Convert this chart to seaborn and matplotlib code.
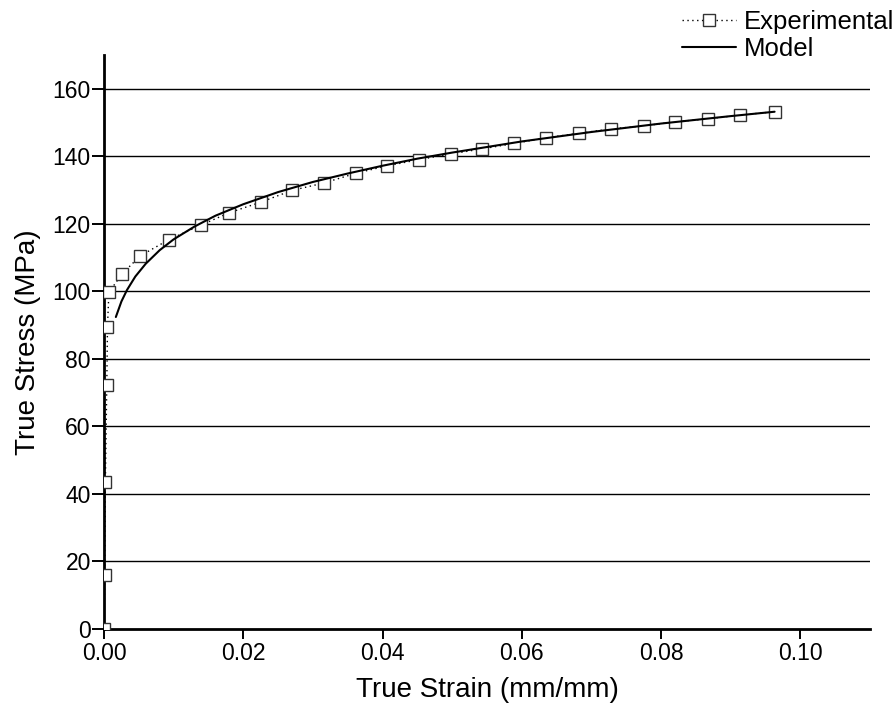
import matplotlib
matplotlib.use("Agg")
import matplotlib.pyplot as plt
import seaborn as sns
import pandas as pd

exp_strain = [0.0, 0.0001, 0.0002, 0.0004, 0.0005, 0.0007, 0.0026, 0.0052, 0.0093,
              0.0139, 0.0180, 0.0225, 0.0270, 0.0316, 0.0362, 0.0407, 0.0452, 0.0498,
              0.0543, 0.0589, 0.0635, 0.0682, 0.0728, 0.0775, 0.0820, 0.0867, 0.0913, 0.0963]
exp_stress = [0.0, 16.0, 43.6, 72.3, 89.5, 99.7, 105.2, 110.5, 115.3,
              119.6, 123.3, 126.4, 129.9, 132.1, 135.0, 137.2, 139.0, 140.7,
              142.2, 143.8, 145.5, 146.8, 148.1, 149.0, 150.2, 151.1, 152.2, 153.2]

# Model curve
model_strain = [0.0017, 0.0025, 0.0033, 0.0045, 0.006, 0.008, 0.010, 0.013, 0.016,
                0.020, 0.025, 0.030, 0.035, 0.040, 0.045, 0.050, 0.060, 0.070,
                0.080, 0.090, 0.0963]
model_stress = [92.4, 97.0, 100.4, 104.4, 108.2, 112.2, 115.4, 119.2, 122.4,
                125.8, 129.4, 132.4, 134.9, 137.2, 139.3, 141.1, 144.4, 147.2,
                149.7, 151.9, 153.2]

y_ticks = [0, 20, 40, 60, 80, 100, 120, 140, 160]
x_ticks = [0.00, 0.02, 0.04, 0.06, 0.08, 0.10]
x_ticklabels = ["0.00", "0.02", "0.04", "0.06", "0.08", "0.10"]

sns.set_style("ticks")
plt.rcParams["font.family"] = ["Liberation Sans", "DejaVu Sans"]
plt.rcParams["text.color"] = "black"
plt.rcParams["axes.labelcolor"] = "black"
plt.rcParams["xtick.color"] = "black"
plt.rcParams["ytick.color"] = "black"

fig = plt.figure(figsize=(8.95, 7.06), dpi=100)
ax = fig.add_axes([104 / 895, 1 - 629 / 706, (870 - 104) / 895, (629 - 55) / 706])

for yv in y_ticks[1:]:
    ax.axhline(yv, color="black", lw=1.0, zorder=1)

df_exp = pd.DataFrame({"strain": exp_strain, "stress": exp_stress})
df_mod = pd.DataFrame({"strain": model_strain, "stress": model_stress})

sns.lineplot(data=df_exp, x="strain", y="stress", ax=ax, color="black",
             linestyle=(0, (1, 2.5)), lw=1.0, marker="s", markersize=8.5,
             markerfacecolor="white", markeredgecolor="#333333", markeredgewidth=1.0,
             label="Experimental", zorder=3, sort=False)
sns.lineplot(data=df_mod, x="strain", y="stress", ax=ax, color="black",
             lw=1.5, label="Model", zorder=4, sort=False)

ax.set_xlim(0, 0.11)
ax.set_ylim(0, 170)
ax.set_xticks(x_ticks)
ax.set_xticklabels(x_ticklabels)
ax.set_yticks(y_ticks)
ax.tick_params(axis="both", labelsize=16.5, width=1.4, direction="out",
               color="black", labelcolor="black")
ax.tick_params(axis="x", length=7.5, pad=1.5)
ax.tick_params(axis="y", length=8.5, pad=1.0)
for s in ["top", "right"]:
    ax.spines[s].set_visible(False)
for s in ["left", "bottom"]:
    ax.spines[s].set_linewidth(2.0)
    ax.spines[s].set_color("black")

ax.set_xlabel("True Strain (mm/mm)", fontsize=20, labelpad=9, color="black")
ax.set_ylabel("True Stress (MPa)", fontsize=20, labelpad=8, color="black")

ax.get_legend().remove()
handles, labels = ax.get_legend_handles_labels()
fig.legend(handles, labels, loc="upper right", bbox_to_anchor=(1.016, 1.008),
           frameon=False, fontsize=18.5, handlelength=2.1, handletextpad=0.3,
           labelspacing=0.12, borderaxespad=0.2, labelcolor="black")

fig.savefig("out.png", dpi=100)
